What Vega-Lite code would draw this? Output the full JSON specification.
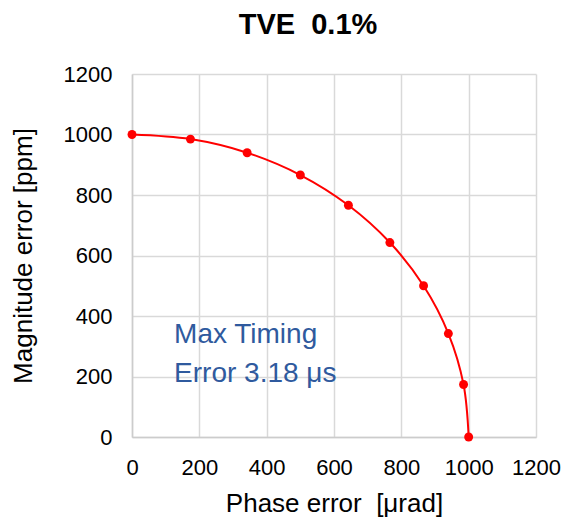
{
  "$schema": "https://vega.github.io/schema/vega-lite/v6.json",
  "width": 404,
  "height": 363,
  "autosize": {"type": "none"},
  "padding": {"left": 132, "top": 74, "right": 29, "bottom": 80},
  "background": "white",
  "title": {
    "text": "TVE\u00a0\u00a00.1%",
    "font": "Liberation Sans",
    "fontSize": 29,
    "fontWeight": "bold",
    "color": "#000000",
    "anchor": "middle",
    "dx": -26,
    "offset": 23
  },
  "config": {
    "view": {"stroke": null},
    "axis": {
      "labelFont": "Liberation Sans",
      "labelFontSize": 22,
      "labelColor": "#000000",
      "labelOverlap": false,
      "labelFlush": false,
      "format": "d",
      "titleFont": "Liberation Sans",
      "titleFontSize": 26,
      "titleFontWeight": "normal",
      "titleColor": "#000000",
      "gridColor": "#d9d9d9",
      "gridWidth": 1.5,
      "gridOpacity": 1,
      "domainColor": "#cccccc",
      "domainWidth": 1.5,
      "ticks": false
    }
  },
  "data": {
    "values": [
      {"phase": 0, "magnitude": 1000},
      {"phase": 173.6, "magnitude": 984.8},
      {"phase": 342.0, "magnitude": 939.7},
      {"phase": 500.0, "magnitude": 866.0},
      {"phase": 642.8, "magnitude": 766.0},
      {"phase": 766.0, "magnitude": 642.8},
      {"phase": 866.0, "magnitude": 500.0},
      {"phase": 939.7, "magnitude": 342.0},
      {"phase": 984.8, "magnitude": 173.6},
      {"phase": 1000, "magnitude": 0}
    ]
  },
  "encoding": {
    "x": {
      "field": "phase",
      "type": "quantitative",
      "scale": {"domain": [0, 1200], "nice": false},
      "axis": {
        "values": [0, 200, 400, 600, 800, 1000, 1200],
        "title": "Phase error\u00a0\u00a0[μrad]",
        "labelPadding": 20,
        "titlePadding": 12
      }
    },
    "y": {
      "field": "magnitude",
      "type": "quantitative",
      "scale": {"domain": [0, 1200], "nice": false},
      "axis": {
        "values": [0, 200, 400, 600, 800, 1000, 1200],
        "title": "Magnitude error [ppm]",
        "labelPadding": 20,
        "titlePadding": 27
      }
    }
  },
  "layer": [
    {
      "mark": {"type": "line", "color": "#ff0000", "strokeWidth": 2, "interpolate": "catmull-rom"}
    },
    {
      "mark": {"type": "point", "filled": true, "color": "#ff0000", "opacity": 1, "size": 80}
    },
    {
      "data": {"values": [{"phase": 125, "magnitude": 311, "note": ["Max Timing", "Error 3.18 μs"]}]},
      "mark": {
        "type": "text",
        "align": "left",
        "baseline": "alphabetic",
        "font": "Liberation Sans",
        "fontSize": 28,
        "lineHeight": 39,
        "color": "#2F5A9E"
      },
      "encoding": {
        "text": {"field": "note"}
      }
    }
  ]
}
